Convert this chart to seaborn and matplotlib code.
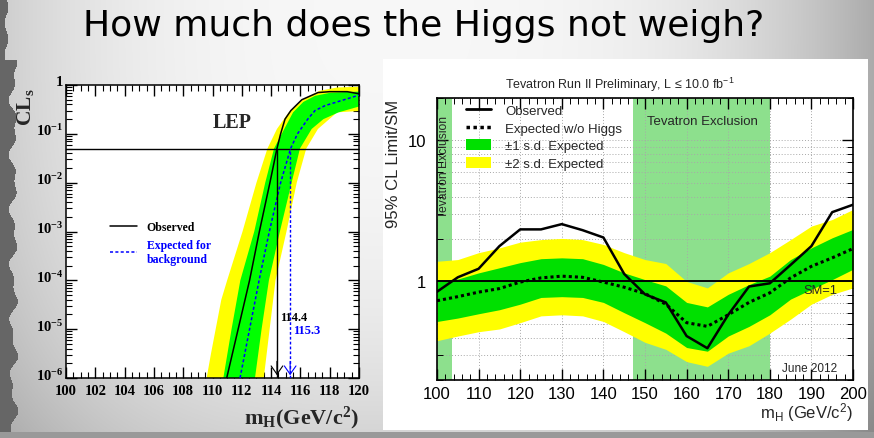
import numpy as np
import pandas as pd
import matplotlib
matplotlib.use("Agg")
import matplotlib.pyplot as plt
import matplotlib.transforms as mtransforms
import seaborn as sns
from matplotlib.lines import Line2D
from matplotlib.patches import Patch, Rectangle
from matplotlib.ticker import LogLocator, MultipleLocator, NullFormatter

# ---------------- LEP panel data (CLs vs m_H) ----------------
lep_obs_mass = [110.97, 111.75, 112.53, 113.2, 113.92, 114.4, 114.65, 114.95, 115.35, 116.1, 117.2, 118.0, 119.2, 120.0]
lep_obs_cls = [1e-6, 1e-5, 1e-4, 1e-3, 1e-2, 0.05, 0.1, 0.2, 0.3, 0.5, 0.7, 0.73, 0.73, 0.66]
lep_exp_mass = [111.88, 112.53, 113.18, 113.88, 114.65, 115.33, 115.8, 116.5, 117.0, 117.7, 118.8, 120.0]
lep_exp_cls = [1e-6, 1e-5, 1e-4, 1e-3, 1e-2, 0.05, 0.1, 0.2, 0.3, 0.38, 0.48, 0.62]
# +-2 sigma band edges
lep_y_left_mass = [109.6, 109.9, 110.6, 111.0, 112.05, 113.0, 113.75, 114.4, 115.2, 116.2, 117.3, 118.5, 120.5]
lep_y_left_cls = [1e-6, 3.2e-6, 4e-5, 1e-4, 1e-3, 1e-2, 0.05, 0.126, 0.275, 0.51, 0.76, 0.89, 0.93]
lep_y_right_mass = [113.5, 113.9, 114.3, 115.05, 115.75, 116.4, 117.2, 118.5, 120.5]
lep_y_right_cls = [1e-6, 1e-5, 1e-4, 1e-3, 1e-2, 0.05, 0.126, 0.275, 0.3]
# +-1 sigma band edges
lep_g_left_mass = [110.74, 111.3, 111.9, 112.85, 113.6, 114.2, 114.9, 115.5, 116.2, 117.0, 118.0, 119.2, 120.5]
lep_g_left_cls = [1e-6, 1e-5, 1e-4, 1e-3, 1e-2, 0.05, 0.126, 0.275, 0.45, 0.6, 0.69, 0.72, 0.74]
lep_g_right_mass = [112.9, 113.35, 113.85, 114.6, 115.4, 115.97, 116.77, 117.57, 118.6, 120.5]
lep_g_right_cls = [1e-6, 1e-5, 1e-4, 1e-3, 1e-2, 0.05, 0.126, 0.2, 0.275, 0.4]
lep_obs_limit = 114.4
lep_exp_limit = 115.3
lep_cl_level = 0.05
lep_xticks = list(range(100, 121, 2))
lep_yticks = [1e-6, 1e-5, 1e-4, 1e-3, 1e-2, 1e-1, 1]
lep_ytick_labels = ["$10^{-6}$", "$10^{-5}$", "$10^{-4}$", "$10^{-3}$", "$10^{-2}$", "$10^{-1}$", "1"]

# ---------------- Tevatron panel data ----------------
tev_mass = [100, 105, 110, 115, 120, 125, 130, 135, 140, 145, 150, 155, 160, 165, 170, 175, 180, 185, 190, 195, 200]
tev_obs = [0.845, 1.07, 1.23, 1.78, 2.34, 2.34, 2.55, 2.31, 2.05, 1.13, 0.81, 0.71, 0.41, 0.336, 0.58, 0.92, 0.97, 1.31, 1.78, 3.1, 3.5]
tev_exp = [0.73, 0.78, 0.84, 0.89, 0.99, 1.06, 1.09, 1.07, 0.99, 0.91, 0.82, 0.69, 0.51, 0.48, 0.58, 0.71, 0.83, 1.06, 1.28, 1.47, 1.71]
tev_g_up = [1.02, 1.04, 1.15, 1.25, 1.36, 1.45, 1.47, 1.45, 1.32, 1.15, 1.03, 0.93, 0.71, 0.66, 0.81, 0.95, 1.09, 1.43, 1.73, 2.04, 2.34]
tev_g_lo = [0.52, 0.55, 0.59, 0.63, 0.69, 0.77, 0.78, 0.77, 0.71, 0.60, 0.51, 0.43, 0.34, 0.32, 0.41, 0.48, 0.58, 0.75, 0.88, 1.03, 1.22]
tev_y_up = [1.39, 1.43, 1.60, 1.73, 1.90, 1.98, 2.02, 1.98, 1.83, 1.60, 1.43, 1.34, 1.00, 0.90, 1.15, 1.34, 1.60, 1.98, 2.47, 2.75, 3.24]
tev_y_lo = [0.38, 0.41, 0.44, 0.46, 0.51, 0.57, 0.58, 0.57, 0.52, 0.44, 0.37, 0.33, 0.27, 0.25, 0.31, 0.35, 0.43, 0.54, 0.69, 0.81, 0.90]
tev_exclusions = [(100, 103.5), (147, 180)]
tev_xticks = list(range(100, 201, 10))
tev_yticks = [1, 10]
tev_ytick_labels = ["1", "10"]
tev_legend_labels = ["Observed", "Expected w/o Higgs", "\u00b11 s.d. Expected", "\u00b12 s.d. Expected"]

df_tev = pd.DataFrame({"mass": tev_mass, "obs": tev_obs, "exp": tev_exp,
                       "g_up": tev_g_up, "g_lo": tev_g_lo, "y_up": tev_y_up, "y_lo": tev_y_lo})

# ---------------- style ----------------
sns.set_theme(style="white")
plt.rcParams["font.family"] = ["Liberation Sans", "DejaVu Sans"]
plt.rcParams["mathtext.default"] = "regular"
SERIF = "Liberation Serif"

W, H = 874, 439
fig = plt.figure(figsize=(W / 100, H / 100), dpi=100)

# background slide
bg = fig.add_axes([0, 0, 1, 1], zorder=-5)
yy, xx = np.mgrid[0:H, 0:W]
xn, yn = xx / W, yy / H
shade = 0.97 - 0.30 * np.clip(np.abs(xn - 0.45) / 0.55, 0, 1) ** 3 - 0.14 * yn ** 3
edge = np.where(yy > 60, 13 + 3 * np.sin(yy / 9.0) + 2 * np.sin(yy / 4.3), 6 + 2 * np.sin(yy / 5.0))
shade = np.where(xx < edge, 0.40, shade)
shade = np.where(yy > 432, 0.60, shade)
bg.imshow(np.dstack([shade] * 3), extent=[0, 1, 0, 1], aspect="auto", origin="upper")
bg.add_patch(Rectangle((383 / W, 1 - 431 / H), 485 / W, 371 / H, color="white", lw=0))
bg.set_xlim(0, 1)
bg.set_ylim(0, 1)
bg.axis("off")

fig.text(424 / W, 1 - 26 / H, "How much does the Higgs not weigh?", ha="center", va="center",
         fontsize=26, family="DejaVu Sans", color="black")

# ---------------- LEP axes ----------------
axL = fig.add_axes([66 / W, 1 - 379 / H, 293 / W, 293 / H])
axL.set_facecolor("white")
axL.set_yscale("log")
axL.fill(np.r_[lep_y_left_mass, lep_y_right_mass[::-1]], np.r_[lep_y_left_cls, lep_y_right_cls[::-1]],
         color="#ffff00", lw=0, zorder=1)
axL.fill(np.r_[lep_g_left_mass, lep_g_right_mass[::-1]], np.r_[lep_g_left_cls, lep_g_right_cls[::-1]],
         color="#00ff00", lw=0, zorder=2)
axL.axhline(lep_cl_level, color="black", lw=1.0, zorder=3)
sns.lineplot(x=lep_exp_mass, y=lep_exp_cls, ax=axL, color="#0000ff", lw=1.1, linestyle=(0, (2, 1.5)),
             sort=False, estimator=None, zorder=4)
sns.lineplot(x=lep_obs_mass, y=lep_obs_cls, ax=axL, color="black", lw=1.1,
             sort=False, estimator=None, zorder=5)
axL.vlines(lep_obs_limit, 1e-6, lep_cl_level, color="black", lw=1.0, zorder=5)
axL.vlines(lep_exp_limit, 1e-6, lep_cl_level, color="#0000ff", lw=1.0, linestyles=[(0, (2, 1.5))], zorder=5)
for xm, col in [(lep_obs_limit, "black"), (lep_exp_limit, "#0000ff")]:
    axL.annotate("", xy=(xm, 1e-6), xytext=(xm, 2.5e-6),
                 arrowprops=dict(arrowstyle="->,head_length=0.5,head_width=0.35", color=col, lw=0.8))
axL.set_xlim(100, 120)
axL.set_ylim(1e-6, 1)
axL.set_xticks(lep_xticks, labels=[str(t) for t in lep_xticks], fontfamily=SERIF, fontweight="bold", fontsize=10.5)
axL.set_yticks(lep_yticks, labels=lep_ytick_labels, fontfamily=SERIF, fontweight="bold", fontsize=10.5)
axL.xaxis.set_minor_locator(MultipleLocator(0.5))
axL.yaxis.set_minor_locator(LogLocator(base=10, subs=np.arange(2, 10), numticks=20))
axL.yaxis.set_minor_formatter(NullFormatter())
axL.tick_params(which="both", direction="in", top=True, right=True, bottom=True, left=True, colors="black")
axL.tick_params(which="major", length=8, width=1)
axL.tick_params(which="minor", length=4, width=0.8)
axL.tick_params(axis="x", pad=4)
axL.tick_params(axis="y", pad=2)
for s in axL.spines.values():
    s.set_color("black")
    s.set_linewidth(1.1)
axL.set_xlabel("")
axL.set_ylabel("")
# raise the exponent labels so the "10" sits on the tick (ROOT style)
shift_up = mtransforms.ScaledTranslation(0, 3.5 / 72, fig.dpi_scale_trans)
for lab in axL.get_yticklabels():
    lab.set_transform(lab.get_transform() + shift_up)

hL = [Line2D([], [], color="black", lw=1.1), Line2D([], [], color="#0000ff", lw=1.1, ls=(0, (2, 1.5)))]
axL.legend(hL, ["Observed", "Expected for\nbackground"], loc="upper left", bbox_to_anchor=(0.150, 0.535),
           frameon=False, prop=dict(family=SERIF, weight="bold", size=8.5), labelcolor=["black", "#0000ff"],
           handlelength=2.3, handletextpad=0.8, labelspacing=0.5, borderpad=0, borderaxespad=0)
axL.text(0.567, 0.874, "LEP", transform=axL.transAxes, ha="center", va="center",
         fontsize=14.5, family=SERIF, weight="bold")
axL.text(114.6, 1.8e-5, "114.4", ha="left", va="center", fontsize=9, family=SERIF, weight="bold", color="black")
axL.text(115.5, 9.6e-6, "115.3", ha="left", va="center", fontsize=9, family=SERIF, weight="bold", color="#0000ff")
fig.text(25 / W, 1 - 88 / H, "CL$_s$", rotation=90, ha="center", va="top", fontsize=15.5,
         family=SERIF, weight="bold")
fig.text(359 / W, 1 - 418 / H, "m$_H$(GeV/c$^2$)", ha="right", va="center", fontsize=16,
         family=SERIF, weight="bold")

# ---------------- Tevatron axes ----------------
axR = fig.add_axes([437 / W, 1 - 381 / H, 416 / W, 282 / H])
axR.set_facecolor("white")
axR.set_yscale("log")
for a, b in tev_exclusions:
    axR.axvspan(a, b, color="#8de08d", lw=0, zorder=0.2)
axR.fill_between(df_tev["mass"], df_tev["y_lo"], df_tev["y_up"], color="#ffff00", lw=0, zorder=1)
axR.fill_between(df_tev["mass"], df_tev["g_lo"], df_tev["g_up"], color="#00e000", lw=0, zorder=1.1)
axR.axhline(1, color="black", lw=1.4, zorder=3)
sns.lineplot(data=df_tev, x="mass", y="exp", ax=axR, color="black", lw=2.2, linestyle=(0, (1, 1)),
             estimator=None, zorder=4)
sns.lineplot(data=df_tev, x="mass", y="obs", ax=axR, color="black", lw=1.8, estimator=None, zorder=5)
axR.set_xlim(100, 200)
axR.set_ylim(0.2, 20)
axR.set_xticks(tev_xticks, labels=[str(t) for t in tev_xticks], fontsize=12)
axR.set_yticks(tev_yticks, labels=tev_ytick_labels, fontsize=12)
axR.xaxis.set_minor_locator(MultipleLocator(2))
axR.yaxis.set_minor_locator(LogLocator(base=10, subs=np.arange(2, 10), numticks=20))
axR.yaxis.set_minor_formatter(NullFormatter())
axR.set_axisbelow(True)
axR.grid(True, which="major", axis="x", ls=(0, (1, 2)), color="#a8a8a8", lw=0.7)
axR.grid(True, which="both", axis="y", ls=(0, (1, 2)), color="#a8a8a8", lw=0.7)
axR.tick_params(which="both", direction="in", top=True, right=True, bottom=True, left=True, colors="black")
axR.tick_params(which="major", length=8, width=1)
axR.tick_params(which="minor", length=4, width=0.7)
axR.tick_params(axis="x", pad=4)
axR.tick_params(axis="y", pad=8)
for s in axR.spines.values():
    s.set_color("black")
    s.set_linewidth(1.2)
axR.set_xlabel("")
axR.set_ylabel("")

hR = [Line2D([], [], color="black", lw=2), Line2D([], [], color="black", lw=2.5, ls=(0, (1, 1))),
      Patch(color="#00e000", lw=0), Patch(color="#ffff00", lw=0)]
axR.legend(hR, tev_legend_labels, loc="upper left", bbox_to_anchor=((466 - 437) / 416, 0.979),
           frameon=False, fontsize=9.5, handlelength=1.9, handleheight=0.9, handletextpad=1.05,
           labelspacing=0.35, borderpad=0, borderaxespad=0)
axR.text(0.637, 0.918, "Tevatron Exclusion", transform=axR.transAxes, ha="center", va="center", fontsize=9.5)
axR.text((444 - 437) / 416, 0.759, "Tevatron Exclusion", transform=axR.transAxes, ha="center", va="center",
         rotation=90, fontsize=8.7)
axR.text((803 - 437) / 416, 0.319, "SM=1", transform=axR.transAxes, ha="left", va="center", fontsize=9.3)
axR.text((837 - 437) / 416, 0.043, "June 2012", transform=axR.transAxes, ha="right", va="center", fontsize=8.5)
fig.text(620 / W, 1 - 85 / H, "Tevatron Run II Preliminary, L \u2264 10.0 fb$^{-1}$", ha="center", va="center",
         fontsize=9)
fig.text(393 / W, 1 - 164 / H, "95% CL Limit/SM", rotation=90, ha="center", va="center", fontsize=12)
fig.text(853 / W, 1 - 413 / H, "m$_H$ (GeV/c$^2$)", ha="right", va="center", fontsize=12)

fig.savefig("out.png", dpi=100)
